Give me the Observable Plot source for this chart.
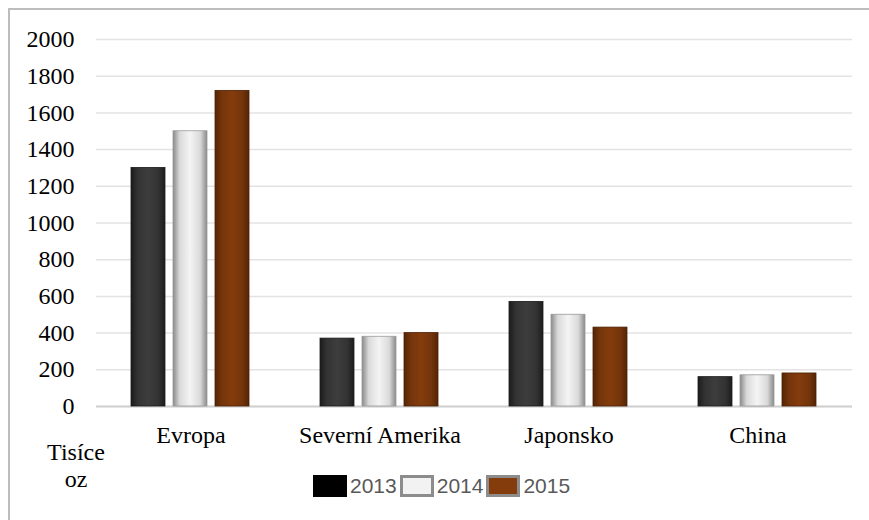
<!DOCTYPE html>
<html>
<head>
<meta charset="utf-8">
<script src="https://cdn.jsdelivr.net/npm/d3@7"></script>
<script src="https://cdn.jsdelivr.net/npm/@observablehq/plot@0.6"></script>
<style>
  html, body { margin: 0; padding: 0; background: #fff; }
  #wrap { position: relative; width: 869px; height: 520px; overflow: hidden; }
  #frame { position: absolute; left: 8px; top: 8px; width: 900px; height: 560px;
           border-left: 2px solid #bdbdbd; border-top: 2px solid #bdbdbd; }
  #chart { position: absolute; left: 0; top: 0; }
  #chart svg text { font-family: "Liberation Serif", "Times New Roman", serif; }
  .unit { position: absolute; font-family: "Liberation Serif", "Times New Roman", serif; font-size: 24px; color: #000; text-align: center; width: 80px; }
  #legend { position: absolute; left: 313px; top: 474px; font-family: "Liberation Sans", Arial, sans-serif;
            font-size: 21px; color: #595959; display: flex; align-items: center; white-space: nowrap; }
  .sw { display: inline-block; width: 34px; height: 22px; box-sizing: border-box; margin-right: 3px; }
  .lab { margin-right: 3px; }
</style>
</head>
<body>
<div id="wrap">
  <div id="frame"></div>
  <div id="chart"></div>
  <div class="unit" style="left:36px; top:439px;">Tisíce</div>
  <div class="unit" style="left:36px; top:466px;">oz</div>
  <div id="legend"></div>
</div>
<script>
const regions = ["Evropa", "Severní Amerika", "Japonsko", "China"];
const years = ["2013", "2014", "2015"];
const values2013 = [1300, 370, 570, 160];
const values2014 = [1500, 380, 500, 170];
const values2015 = [1720, 400, 430, 180];
const yTicks = [0, 200, 400, 600, 800, 1000, 1200, 1400, 1600, 1800, 2000];

const seriesValues = { "2013": values2013, "2014": values2014, "2015": values2015 };
const data = regions.flatMap((r, i) => years.map(y => ({ region: r, year: y, value: seriesValues[y][i] })));

const gradients = {
  "2013": ["#1c1c1c", "#333333", "#3d3d3d"],
  "2014": ["#8a8a8a", "#dadada", "#f4f4f4"],
  "2015": ["#552405", "#74350b", "#843c0c"]
};
const strokes = { "2013": "#1a1a1a", "2014": "#9a9a9a", "2015": "#4a2004" };

const barsFor = y => Plot.barY(data.filter(d => d.year === y), {
  fx: "region", x: "year", y: "value",
  fill: `url(#g${y})`, stroke: strokes[y], strokeWidth: 0.8
});

const svg = Plot.plot({
  width: 869,
  height: 460,
  marginLeft: 95,
  marginRight: 17,
  marginTop: 39,
  marginBottom: 54,
  style: { fontFamily: "'Liberation Serif', 'Times New Roman', serif", fontSize: "24px", color: "#000", background: "transparent" },
  fx: { domain: regions, padding: 0, label: null, axis: "bottom", tickSize: 0, tickPadding: 19 },
  x: { domain: years, axis: null, paddingInner: 0.19, paddingOuter: 0.845 },
  y: { domain: [0, 2000], ticks: yTicks, tickSize: 0, tickPadding: 22, label: null, tickFormat: d => String(d) },
  marks: [
    Plot.gridY(yTicks, { stroke: "#e3e3e3", strokeOpacity: 1, strokeWidth: 1.5 }),
    Plot.ruleY([0], { stroke: "#d0d0d0", strokeWidth: 2 }),
    barsFor("2013"),
    barsFor("2014"),
    barsFor("2015")
  ]
});

const defs = d3.select(svg).insert("defs", ":first-child");
for (const y of years) {
  const [edge, mid, center] = gradients[y];
  const g = defs.append("linearGradient").attr("id", `g${y}`).attr("x1", 0).attr("x2", 1).attr("y1", 0).attr("y2", 0);
  [[0, edge], [0.2, mid], [0.5, center], [0.8, mid], [1, edge]].forEach(([o, c]) =>
    g.append("stop").attr("offset", o).attr("stop-color", c));
}
document.getElementById("chart").appendChild(svg);

const legendFills = { "2013": ["#000000", "#000000"], "2014": ["#f2f2f2", "#8c8c8c"], "2015": ["#843c0c", "#8c8c8c"] };
const legend = document.getElementById("legend");
for (const y of years) {
  const sw = document.createElement("span");
  sw.className = "sw";
  sw.style.background = legendFills[y][0];
  sw.style.border = `3px solid ${legendFills[y][1]}`;
  legend.appendChild(sw);
  const t = document.createElement("span");
  t.className = "lab";
  t.textContent = y;
  legend.appendChild(t);
}
</script>
</body>
</html>
